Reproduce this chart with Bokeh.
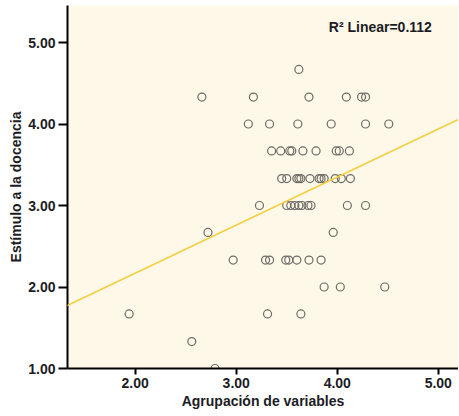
from bokeh.plotting import figure
from bokeh.models import Range1d, Slope, Label, FixedTicker, NumeralTickFormatter
from bokeh.embed import file_html
from bokeh.resources import INLINE

# Agrupación de variables (x) vs Estímulo a la docencia (y)
agrupacion = [
    3.62,
    2.66, 3.17, 3.72, 4.09, 4.24, 4.28,
    3.12, 3.33, 3.61, 3.94, 4.28, 4.51,
    3.35, 3.44, 3.53, 3.55, 3.66, 3.79, 3.99, 4.02, 4.12,
    3.45, 3.50, 3.60, 3.62, 3.64, 3.73, 3.82, 3.84, 3.87, 3.98, 4.04, 4.13,
    3.23, 3.50, 3.54, 3.58, 3.62, 3.65, 3.71, 3.74, 4.10, 4.28,
    2.72, 3.96,
    2.97, 3.29, 3.33, 3.49, 3.52, 3.60, 3.72, 3.84,
    3.87, 4.03, 4.47,
    1.94, 3.31, 3.64,
    2.56,
    2.79,
]
estimulo = [
    4.67,
    4.33, 4.33, 4.33, 4.33, 4.33, 4.33,
    4.00, 4.00, 4.00, 4.00, 4.00, 4.00,
    3.67, 3.67, 3.67, 3.67, 3.67, 3.67, 3.67, 3.67, 3.67,
    3.33, 3.33, 3.33, 3.33, 3.33, 3.33, 3.33, 3.33, 3.33, 3.33, 3.33, 3.33,
    3.00, 3.00, 3.00, 3.00, 3.00, 3.00, 3.00, 3.00, 3.00, 3.00,
    2.67, 2.67,
    2.33, 2.33, 2.33, 2.33, 2.33, 2.33, 2.33, 2.33,
    2.00, 2.00, 2.00,
    1.67, 1.67, 1.67,
    1.33,
    1.00,
]
fit_slope = 0.59
fit_intercept = 0.99
r2_text = "R\u00b2 Linear=0.112"
x_ticks = [2.0, 3.0, 4.0, 5.0]
y_ticks = [1.0, 2.0, 3.0, 4.0, 5.0]

FONT = "Liberation Sans, Arial, sans-serif"
TXT = "#1c1c24"

p = figure(width=446, height=408, output_backend="svg", toolbar_location=None,
           x_range=Range1d(1.33, 5.2), y_range=Range1d(1.0, 5.454),
           min_border_left=55, min_border_right=0, min_border_top=5, min_border_bottom=40)
p.margin = (0, 0, 0, 5)
p.frame_width = 391
p.frame_height = 363
p.background_fill_color = "#fdf8e7"
p.border_fill_color = "white"
p.outline_line_color = None
p.grid.visible = False

for ax, ticks in ((p.xaxis[0], x_ticks), (p.yaxis[0], y_ticks)):
    ax.ticker = FixedTicker(ticks=ticks)
    ax.formatter = NumeralTickFormatter(format="0.00")
    ax.axis_line_color = "black"
    ax.axis_line_width = 2
    ax.major_tick_line_color = "black"
    ax.major_tick_line_width = 2
    ax.minor_tick_line_color = None
    ax.major_tick_in = 0
    ax.major_label_text_font = FONT
    ax.major_label_text_font_style = "bold"
    ax.major_label_text_font_size = "14px"
    ax.major_label_text_color = TXT
    ax.axis_label_text_font = FONT
    ax.axis_label_text_font_style = "bold"
    ax.axis_label_text_font_size = "14px"
    ax.axis_label_text_color = TXT

p.xaxis[0].major_tick_out = 6
p.yaxis[0].major_tick_out = 9
p.xaxis[0].major_label_standoff = 3
p.yaxis[0].major_label_standoff = 3
p.xaxis[0].axis_label = "Agrupación de variables"
p.yaxis[0].axis_label = "Estímulo a la docencia"
p.xaxis[0].axis_label_standoff = 2
p.yaxis[0].axis_label_standoff = 1

p.add_layout(Slope(gradient=fit_slope, y_intercept=fit_intercept,
                   line_color="#f6cd3c", line_width=1.6))

p.scatter(agrupacion, estimulo, marker="circle", size=8, fill_color=None,
          line_color="#6e6a66", line_width=1.2)

p.add_layout(Label(x=3.916, y=5.19, text=r2_text, text_font=FONT,
                   text_font_style="bold", text_font_size="14px",
                   text_color=TXT, text_baseline="middle"))

open("out.html", "w").write(file_html(p, INLINE))
